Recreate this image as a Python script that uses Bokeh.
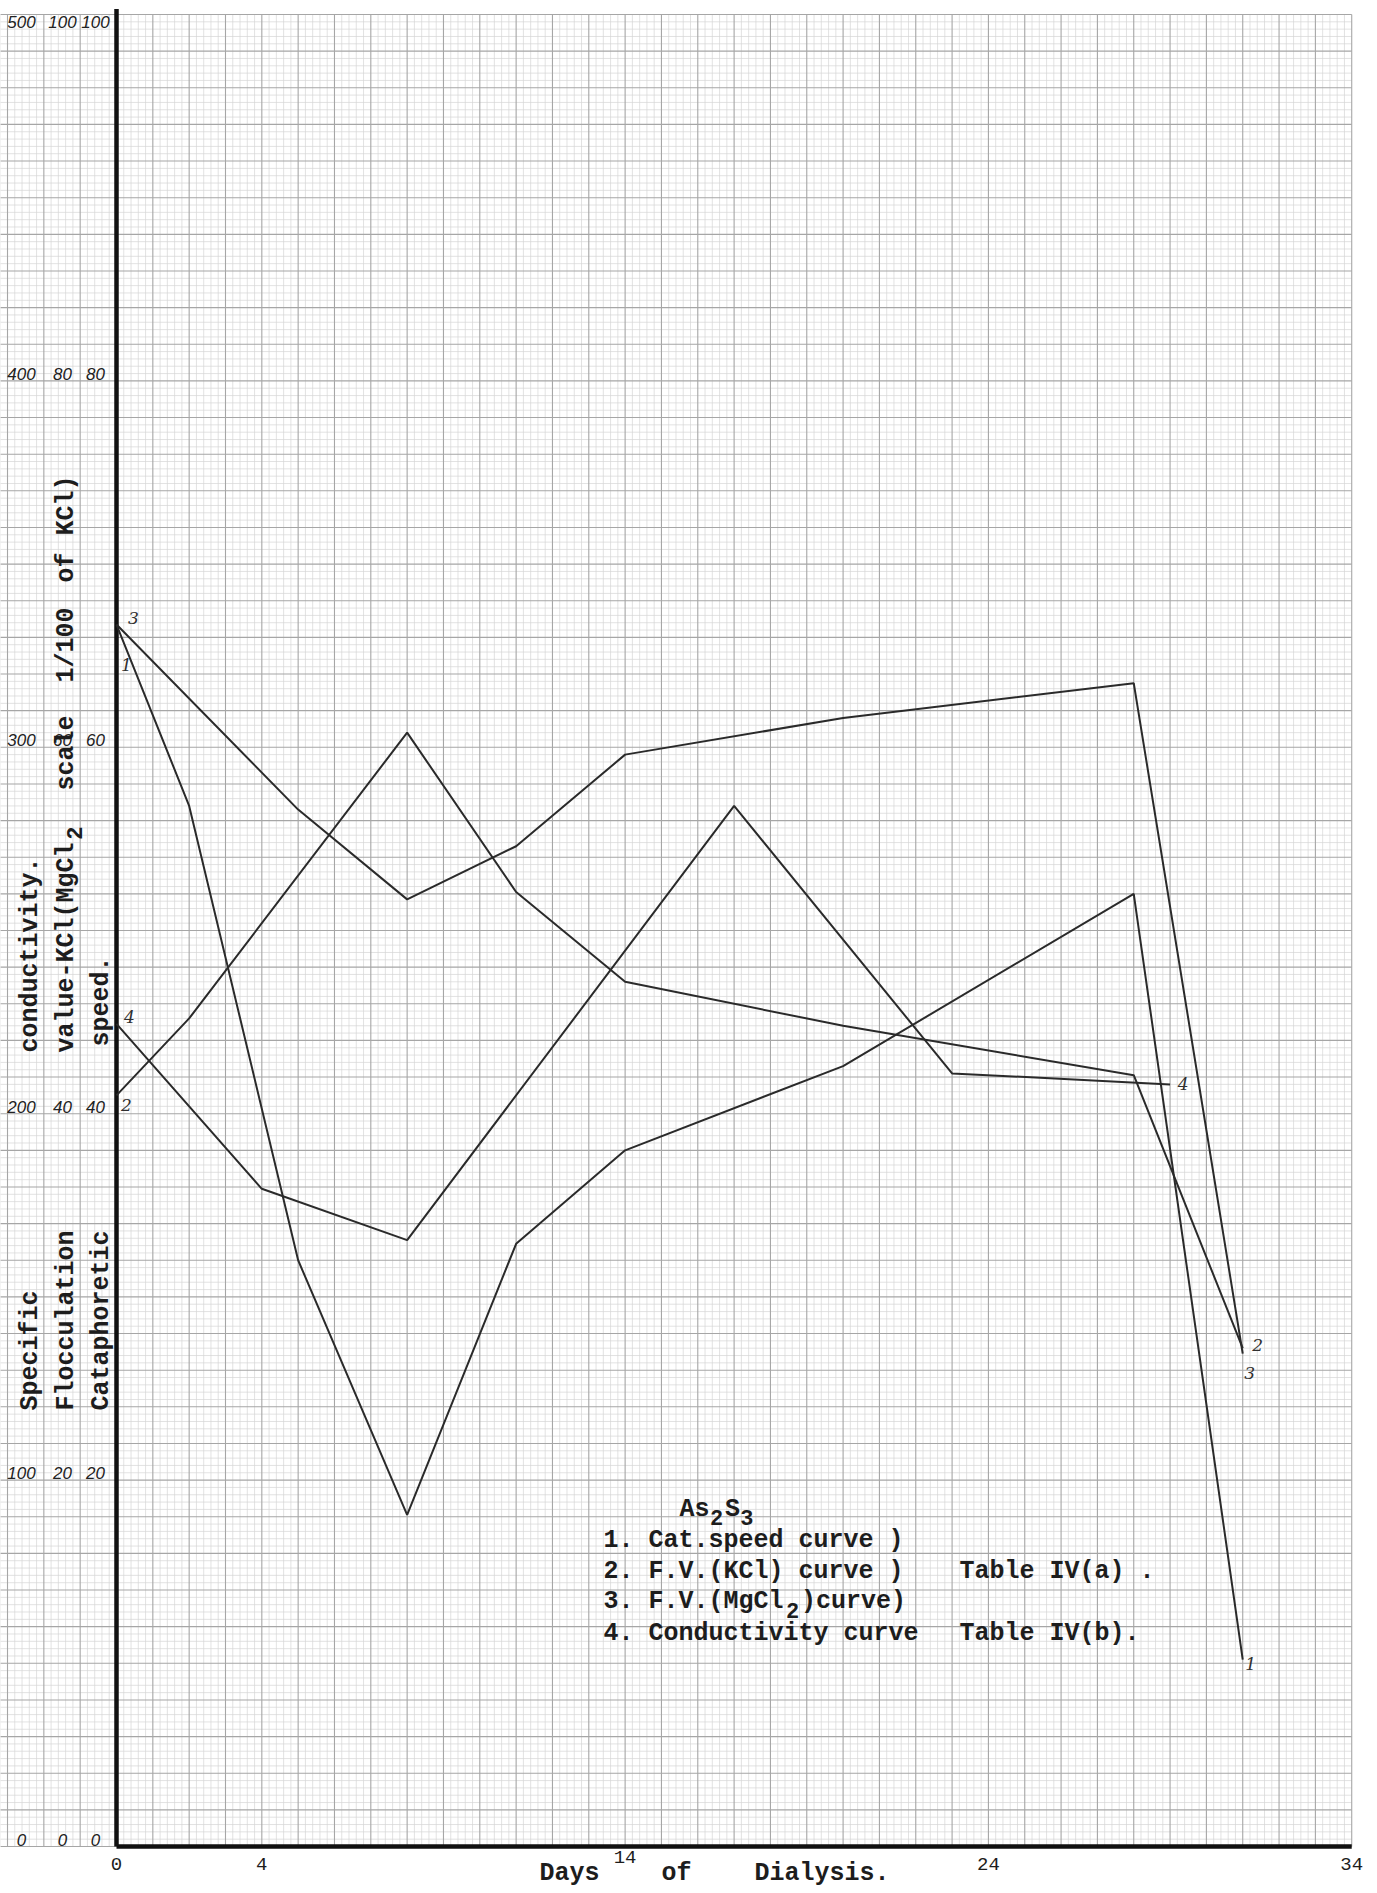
import numpy as np
from bokeh.plotting import figure
from bokeh.models import Range1d, ColumnDataSource
from bokeh.core.properties import value
from bokeh.embed import file_html
from bokeh.resources import INLINE

# ---- data: days of dialysis and the four curves --------------------------
# curves 1-3 are read on the 0-100 scales, conductivity on its 0-500 scale
cat_days = [0, 2, 5, 8, 11, 14, 20, 28, 31]
cat_speed = [66.7, 56.8, 32.0, 18.1, 32.9, 38.0, 42.6, 52.0, 10.2]

kcl_days = [0, 2, 8, 11, 14, 20, 28, 31]
fv_kcl = [41.0, 45.2, 60.8, 52.1, 47.2, 44.8, 42.1, 27.2]

mgcl2_days = [0, 5, 8, 11, 14, 20, 28, 31]
fv_mgcl2 = [66.7, 56.6, 51.7, 54.6, 59.6, 61.6, 63.5, 26.9]

cond_days = [0, 4, 8, 17, 23, 29]
conductivity = [224.5, 179.5, 165.5, 284.0, 211.0, 208.0]

x_ticks = [0, 4, 14, 24, 34]
speed_ticks = [0, 20, 40, 60, 80, 100]
fv_ticks = [0, 20, 40, 60, 80, 100]
cond_ticks = [0, 100, 200, 300, 400, 500]

# ---- page geometry ---------------------------------------------------------
W, H = 1377, 1893
X0_PX, PX_DAY = 116.0, 36.33      # where day 0 sits, pixels per day
Y0_PX, PX_UNIT = 1846.0, 18.32    # where value 0 sits, pixels per unit

def to_x(px):
    return (px - X0_PX) / PX_DAY

def to_y(py):
    return (Y0_PX - py) / PX_UNIT

INK = "#1d1d1d"
LINE = "#2a2a2a"

p = figure(width=W, height=H,
           x_range=Range1d(to_x(0), to_x(W)),
           y_range=Range1d(to_y(H), to_y(0)),
           x_axis_location=None, y_axis_location=None,
           output_backend="svg", toolbar_location=None,
           min_border=0, outline_line_color=None,
           background_fill_color="white", border_fill_color="white")
p.grid.visible = False

# ---- graph paper -----------------------------------------------------------
GX0, GX1 = -3.2, 34.0
GY0, GY1 = 0.0, 100.0
ix = list(range(-16, 171))
jy = list(range(0, 251))
minor_x = [i * 0.2 for i in ix if i % 5 != 0]
major_x = [i * 0.2 for i in ix if i % 5 == 0]
minor_y = [j * 0.4 for j in jy if j % 5 != 0]
major_y = [j * 0.4 for j in jy if j % 5 == 0]

p.segment(x0=minor_x, y0=[GY0] * len(minor_x), x1=minor_x, y1=[GY1] * len(minor_x),
          line_color="#d6d6d6", line_width=0.7)
p.segment(x0=[GX0] * len(minor_y), y0=minor_y, x1=[GX1] * len(minor_y), y1=minor_y,
          line_color="#d6d6d6", line_width=0.7)
p.segment(x0=major_x, y0=[GY0] * len(major_x), x1=major_x, y1=[GY1] * len(major_x),
          line_color="#a6a6a6", line_width=1.1)
p.segment(x0=[GX0] * len(major_y), y0=major_y, x1=[GX1] * len(major_y), y1=major_y,
          line_color="#a6a6a6", line_width=1.1)

# heavy axes
p.segment(x0=[0, 0], y0=[0, 0], x1=[GX1, 0], y1=[0, GY1 + 0.3],
          line_color="#111111", line_width=4.5)

# ---- curves ----------------------------------------------------------------
p.line(cat_days, cat_speed, line_color=LINE, line_width=2)
p.line(kcl_days, fv_kcl, line_color=LINE, line_width=2)
p.line(mgcl2_days, fv_mgcl2, line_color=LINE, line_width=2)
p.line(cond_days, [c / 5.0 for c in conductivity], line_color=LINE, line_width=2)

# curve numbers written at the ends of each curve
ends = ColumnDataSource(dict(
    x=[mgcl2_days[0], cat_days[0], cond_days[0], kcl_days[0],
       cond_days[-1], kcl_days[-1], mgcl2_days[-1], cat_days[-1]],
    y=[fv_mgcl2[0], cat_speed[0], conductivity[0] / 5.0, fv_kcl[0],
       conductivity[-1] / 5.0, fv_kcl[-1], fv_mgcl2[-1], cat_speed[-1]],
    t=["3", "1", "4", "2", "4", "2", "3", "1"],
    dx=[17, 10, 13, 10, 13, 15, 7, 8],
    dy=[-7, 40, -7, 10, 0, -3, 19, 4],
))
p.text(x="x", y="y", text="t", x_offset="dx", y_offset="dy", source=ends,
       text_font=value("DejaVu Serif"), text_font_style="italic",
       text_font_size="17px", text_color="#303030",
       text_align="center", text_baseline="middle")

# ---- scale numbers on the left -------------------------------------------
NUM_FONT = dict(text_font=value("Liberation Sans"), text_font_style="italic",
                text_font_size="17px", text_color="#222222", text_align="center")
col_dx = [-95 / PX_DAY, -54 / PX_DAY, -21 / PX_DAY]
for dx, ticks in [(col_dx[0], cond_ticks), (col_dx[1], fv_ticks), (col_dx[2], speed_ticks)]:
    p.text(x=[dx] * (len(speed_ticks) - 1), y=speed_ticks[:-1],
           text=[str(t) for t in ticks[:-1]],
           text_baseline="bottom", y_offset=-1, **NUM_FONT)
    # the top figure sits just under the last ruling
    p.text(x=[dx], y=[speed_ticks[-1]], text=[str(ticks[-1])],
           text_baseline="top", y_offset=1, **NUM_FONT)

# ---- typed lettering -------------------------------------------------------
def typed(x, y, s, size=25, angle=0.0, align="left", baseline="middle", bold=True):
    p.text(x=[x], y=[y], text=[s], angle=angle,
           text_font=value("Liberation Mono"), text_font_size=f"{size}px",
           text_font_style="bold" if bold else "normal", text_color=INK,
           text_align=align, text_baseline=baseline)

PITCH = 15.2

# x tick numbers and axis title
for t in x_ticks:
    lift = 10 if t == 14 else 17
    p.text(x=[t], y=[0], text=[str(t)], y_offset=lift,
           text_font=value("Liberation Mono"), text_font_size="19px",
           text_color=INK, text_align="center", text_baseline="middle")
typed(to_x(539), to_y(1873), "Days")
typed(to_x(661), to_y(1873), "of")
typed(to_x(754), to_y(1873), "Dialysis.")

# vertical titles (read bottom to top)
ROT = np.pi / 2
c1, c2, c3 = to_x(X0_PX - 86), to_x(X0_PX - 50), to_x(X0_PX - 15)
low, high = to_y(1410), to_y(1052)
typed(c1, low, "Specific", angle=ROT)
typed(c2, low, "Flocculation", angle=ROT)
typed(c3, low, "Cataphoretic", angle=ROT)
typed(c1, high, "conductivity.", angle=ROT)
typed(c3, high + 6 / PX_UNIT, "speed.", angle=ROT)
part_a = "value-KCl(MgCl"
typed(c2, high, part_a, angle=ROT)
typed(c2 + 8 / PX_DAY, to_y(1052 - len(part_a) * PITCH), "2", angle=ROT, size=22)
typed(c2, to_y(790), "scale", angle=ROT)
typed(c2, to_y(682), "1/100", angle=ROT)
typed(c2, to_y(582), "of", angle=ROT)
typed(c2, to_y(535), "KCl)", angle=ROT)

# key
LX = 603
typed(to_x(679), to_y(1509), "As")
typed(to_x(679 + 2 * PITCH), to_y(1517), "2", size=22)
typed(to_x(679 + 3 * PITCH), to_y(1509), "S")
typed(to_x(679 + 4 * PITCH), to_y(1517), "3", size=22)
typed(to_x(LX), to_y(1540), "1. Cat.speed curve )")
typed(to_x(LX), to_y(1571), "2. F.V.(KCl) curve )")
typed(to_x(959), to_y(1571), "Table IV(a) .")
row3 = "3. F.V.(MgCl"
typed(to_x(LX), to_y(1601), row3)
typed(to_x(LX + len(row3) * PITCH), to_y(1610), "2", size=22)
typed(to_x(LX + (len(row3) + 1) * PITCH), to_y(1601), ")curve)")
typed(to_x(LX), to_y(1633), "4. Conductivity curve")
typed(to_x(959), to_y(1633), "Table IV(b).")

open("out.html", "w").write(file_html(p, INLINE))
